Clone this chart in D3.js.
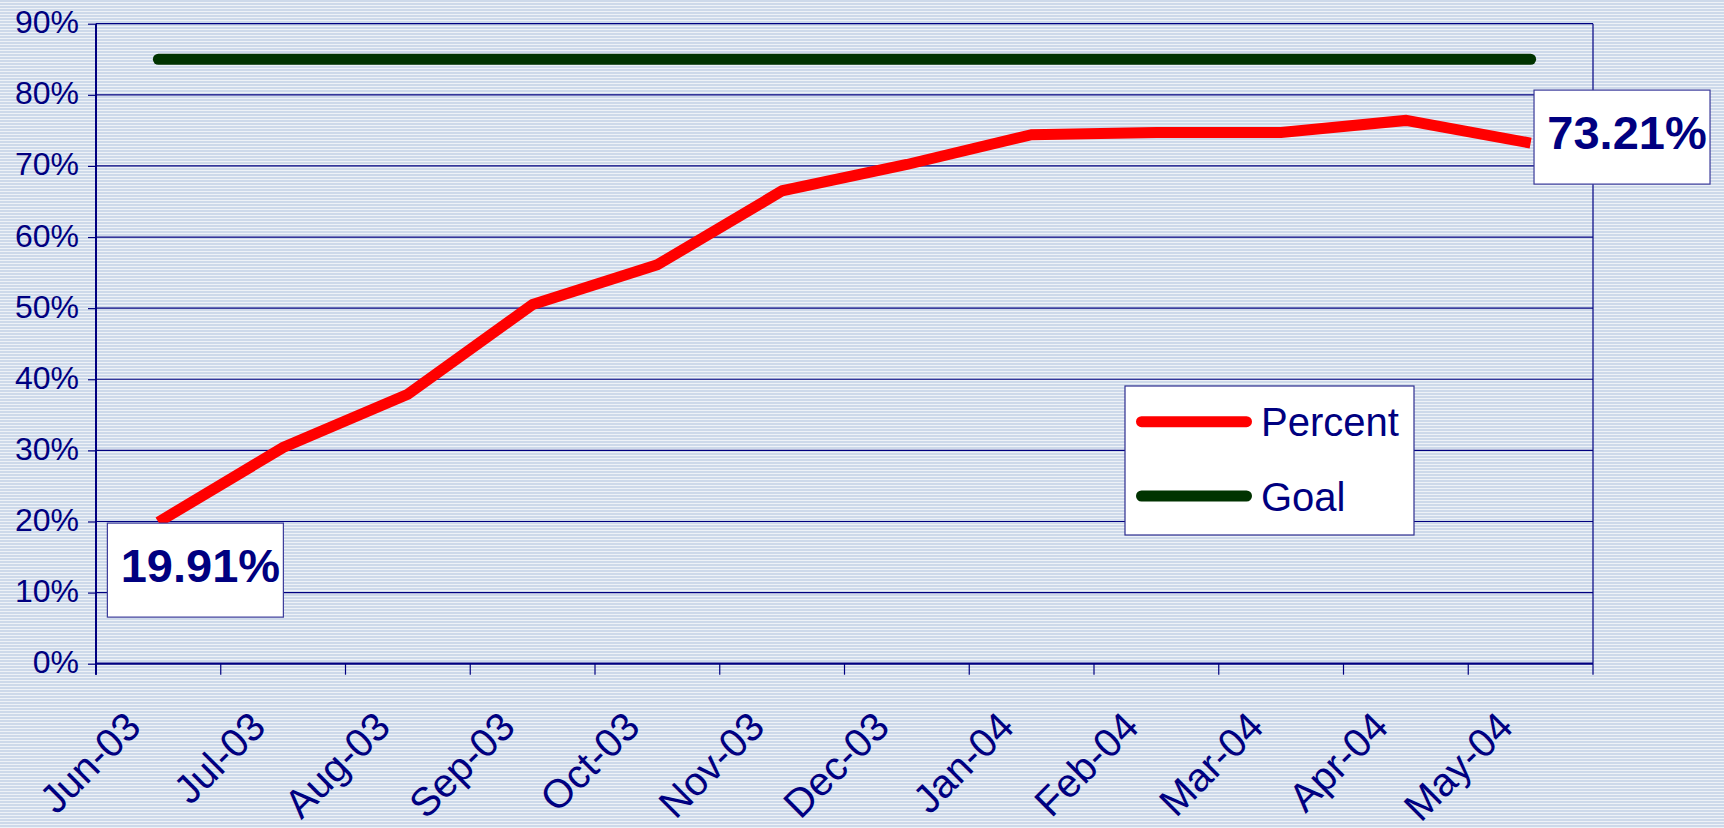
<!DOCTYPE html>
<html>
<head>
<meta charset="utf-8">
<script src="https://cdn.jsdelivr.net/npm/d3@7"></script>
<style>
  html, body { margin: 0; padding: 0; background: #fff; }
  svg { display: block; }
  text { font-family: "Liberation Sans", Arial, sans-serif; }
</style>
</head>
<body>
<svg id="chart" width="1724" height="828"></svg>
<script>
// ---- Data ----
const months = ["Jun-03","Jul-03","Aug-03","Sep-03","Oct-03","Nov-03","Dec-03","Jan-04","Feb-04","Mar-04","Apr-04","May-04"];
const percentValues = [19.91, 30.4, 37.9, 50.5, 56.1, 66.5, 70.2, 74.4, 74.7, 74.7, 76.4, 73.21];
const goalValues = [85, 85, 85, 85, 85, 85, 85, 85, 85, 85, 85, 85];
const yTickValues = [0, 10, 20, 30, 40, 50, 60, 70, 80, 90];
const seriesNames = ["Percent", "Goal"];
const labelledPoints = [0, 11];

// ---- Layout ----
const W = 1724, H = 828;
const plot = { left: 96, right: 1593, top: 23.7, bottom: 663.7 };
const navy = "#000080";
const colors = { Percent: "#ff0000", Goal: "#003300" };

const svg = d3.select("#chart");

// Background stripes
const defs = svg.append("defs");
const pat = defs.append("pattern").attr("id", "stripes")
  .attr("patternUnits", "userSpaceOnUse").attr("width", 8).attr("height", 3);
pat.append("rect").attr("x", 0).attr("y", 0).attr("width", 8).attr("height", 3).attr("fill", "#eef2f7");
pat.append("rect").attr("x", 0).attr("y", 0).attr("width", 8).attr("height", 2).attr("fill", "#cdd9ea");
svg.append("rect").attr("width", W).attr("height", H).attr("fill", "url(#stripes)");

// Scales
const x = d3.scaleBand().domain(months).range([plot.left, plot.right]).padding(0);
const y = d3.scaleLinear().domain([0, 90]).range([plot.bottom, plot.top]);
const cx = m => x(m) + x.bandwidth() / 2;

// Gridlines
svg.append("g").selectAll("line").data(yTickValues.filter(v => v > 0)).join("line")
  .attr("x1", plot.left).attr("x2", plot.right)
  .attr("y1", d => y(d)).attr("y2", d => y(d))
  .attr("stroke", navy).attr("stroke-width", 1.2);

// Right border
svg.append("line").attr("x1", plot.right).attr("x2", plot.right)
  .attr("y1", plot.top).attr("y2", plot.bottom)
  .attr("stroke", navy).attr("stroke-width", 1.2);

// Y axis
const yAxis = d3.axisLeft(y).tickValues(yTickValues).tickSize(8).tickPadding(9)
  .tickFormat(d => d + "%");
const gy = svg.append("g").attr("transform", `translate(${plot.left},0)`).call(yAxis);
gy.select(".domain").remove();
gy.selectAll(".tick line").attr("stroke", navy).attr("stroke-width", 1.2);
gy.selectAll(".tick text").attr("fill", navy).attr("font-size", 32)
  .attr("dy", null).attr("y", 9);
svg.append("line").attr("x1", plot.left).attr("x2", plot.left)
  .attr("y1", plot.top).attr("y2", plot.bottom + 11)
  .attr("stroke", navy).attr("stroke-width", 2);

// X axis
const xAxis = d3.axisBottom(x).tickSize(0).tickFormat("");
const gx = svg.append("g").attr("transform", `translate(0,${plot.bottom})`).call(xAxis);
gx.select(".domain").remove();
const boundaries = months.map(m => x(m)).concat([plot.right]);
svg.append("g").selectAll("line").data(boundaries).join("line")
  .attr("x1", d => d).attr("x2", d => d)
  .attr("y1", plot.bottom).attr("y2", plot.bottom + 11)
  .attr("stroke", navy).attr("stroke-width", 1.2);
svg.append("line").attr("x1", plot.left).attr("x2", plot.right)
  .attr("y1", plot.bottom).attr("y2", plot.bottom)
  .attr("stroke", navy).attr("stroke-width", 2.2);
svg.append("g").selectAll("text").data(months).join("text")
  .attr("transform", d => `translate(${cx(d) - 15.5},729) rotate(-45)`)
  .attr("text-anchor", "end").attr("font-size", 40).attr("fill", navy)
  .text(d => d);

// Lines
const line = d3.line().x((d, i) => cx(months[i])).y(d => y(d));
svg.append("path").datum(goalValues).attr("d", line)
  .attr("fill", "none").attr("stroke", colors.Goal).attr("stroke-width", 11)
  .attr("stroke-linecap", "round");
svg.append("path").datum(percentValues).attr("d", line)
  .attr("fill", "none").attr("stroke", colors.Percent).attr("stroke-width", 11)
  .attr("stroke-linejoin", "miter").attr("stroke-linecap", "butt");

// Data labels
const boxOffsets = { 0: { dx: -51, dy: 1 }, 11: { dx: 3.4, dy: -53 } };
labelledPoints.forEach(i => {
  const px = cx(months[i]), py = y(percentValues[i]);
  const o = boxOffsets[i];
  const bx = px + o.dx, by = py + o.dy;
  svg.append("rect").attr("x", bx).attr("y", by).attr("width", 176).attr("height", 94)
    .attr("fill", "#fff").attr("stroke", "#3a3a9a").attr("stroke-width", 1.2);
  svg.append("text").attr("x", bx + 93).attr("y", by + 58.5)
    .attr("text-anchor", "middle").attr("font-size", 47).attr("font-weight", "bold")
    .attr("fill", navy).text(percentValues[i].toFixed(2) + "%");
});

// Legend
const lg = svg.append("g").attr("transform", "translate(1125,386)");
lg.append("rect").attr("width", 289).attr("height", 149)
  .attr("fill", "#fff").attr("stroke", "#2e2e8f").attr("stroke-width", 1.2);
const legendRows = [35.7, 110];
seriesNames.forEach((name, i) => {
  lg.append("line").attr("x1", 16.5).attr("x2", 121.5)
    .attr("y1", legendRows[i]).attr("y2", legendRows[i])
    .attr("stroke", colors[name]).attr("stroke-width", 11).attr("stroke-linecap", "round");
  lg.append("text").attr("x", 136).attr("y", legendRows[i] + 14.5)
    .attr("font-size", 40).attr("fill", navy).text(name);
});
</script>
</body>
</html>
